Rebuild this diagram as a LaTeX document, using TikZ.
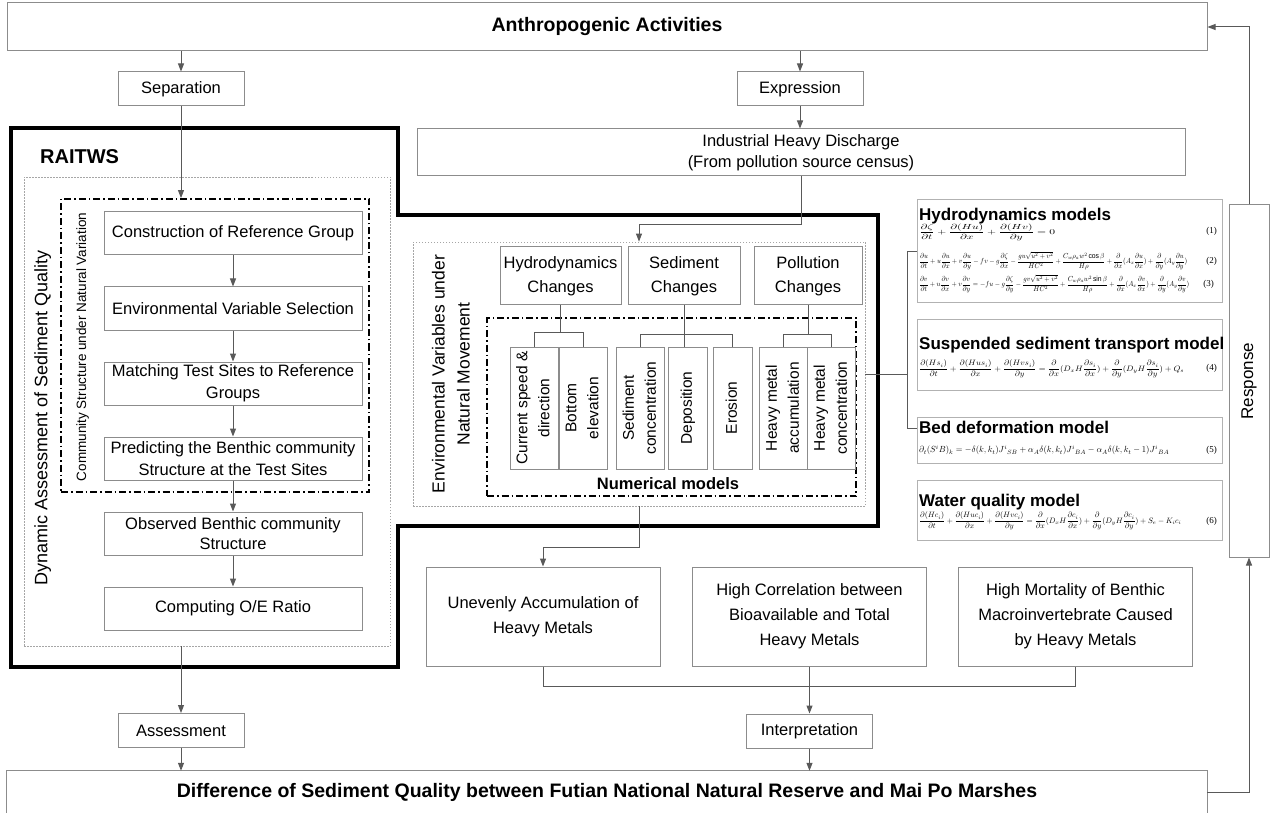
\documentclass[tikz,border=0pt]{standalone}
\usepackage{amsmath}
\usepackage{fontspec}
\setmainfont{Liberation Sans}
\newfontfamily\eqnumfont{Liberation Serif}
\usetikzlibrary{arrows.meta,positioning,calc}

\newcommand{\fs}[2]{\fontsize{#1}{#2}\selectfont}
\newcommand{\vtext}[1]{\rotatebox{90}{\begin{tabular}{@{}c@{}}#1\end{tabular}}}
\newcommand{\eqbox}[3]{\resizebox*{#1}{#2}{$\displaystyle #3$}}

\begin{document}
\begin{tikzpicture}[%
>={Stealth[length=8pt,width=6pt,inset=0pt]},
x=1pt, y=-1pt,
node distance=75pt,
on grid,
box/.style={draw=black!45, line width=1pt, inner sep=2pt, align=center, font=\fs{16.5}{22}},
title/.style={box, font=\bfseries\fs{19.5}{24}},
colbox/.style={box, minimum width=258pt, minimum height=43pt},
smallbox/.style={box, minimum width=126pt, minimum height=34pt},
tall/.style={box, minimum width=#1, minimum height=122pt, font=\fs{15.5}{22}},
result/.style={box, minimum width=234pt, minimum height=99pt, font=\fs{16.5}{25}},
model/.style={draw=black!30, line width=1pt, minimum width=305pt},
heading/.style={anchor=base west, inner sep=0pt, font=\bfseries\fs{17}{20}},
eq/.style={anchor=west, inner sep=0pt},
eqnum/.style={anchor=east, inner sep=0pt, font=\eqnumfont\fs{9}{10}},
dotbox/.style={draw=black!35, line width=0.8pt, dash pattern=on 1.5pt off 1.5pt},
dashdot/.style={draw, line width=1.8pt, dash pattern=on 7pt off 3pt on 1.5pt off 3pt},
line/.style={draw=black!65, line width=1pt},
]
\useasboundingbox (0,0) rectangle (1270,813);

% top row
\node[title, minimum width=1200pt, minimum height=48pt] (anthro) at (607,27) {Anthropogenic Activities};
\node[smallbox] (sep) at (181,89) {Separation};
\node[smallbox] (expr) at (800,89) {Expression};
\node[box, minimum width=768pt, minimum height=47pt, font=\fs{16.5}{21}] (disch) at (801,152.5) {Industrial Heavy Discharge\\(From pollution source census)};

\draw[line,->] (anthro.south -| sep) -- (sep);
\draw[line,->] (anthro.south -| expr) -- (expr);
\draw[line,->] (expr) -- (disch.north -| expr);

% RAITWS frame
\draw[line width=3.5pt, line join=miter] (11,128) -- (398,128) -- (398,215) -- (878,215) -- (878,526) -- (398,526) -- (398,667) -- (11,667) -- cycle;
\node[anchor=base west, inner sep=0pt, font=\bfseries\fs{20}{24}] (raitws) at (40,164) {RAITWS};

% left column
\node[dotbox, minimum width=366pt, minimum height=469pt] (dynbox) at (207,411.5) {};
\node[dashdot, minimum width=308pt, minimum height=293pt] (commbox) at (215,345.5) {};
\node[font=\fs{18}{22}] (dynlabel) at (43,418) {\vtext{Dynamic Assessment of Sediment Quality}};
\node[font=\fs{13.5}{16}] (commlabel) at (83,347) {\vtext{Community Structure under Natural Variation}};

\node[colbox] (cons) at (233,233.5) {Construction of Reference Group};
\node[colbox, below=of cons] (varsel) {Environmental Variable Selection};
\node[colbox, below=of varsel] (match) {Matching Test Sites to Reference\\Groups};
\node[colbox, below=of match] (pred) {Predicting the Benthic community\\Structure at the Test Sites};
\node[colbox, below=of pred, font=\fs{16.5}{20}] (obs) {Observed Benthic community\\Structure};
\node[colbox, below=of obs] (oeratio) {Computing O/E Ratio};

\draw[line,->] (sep) -- (sep |- commbox.north);
\foreach \a/\b in {cons/varsel, varsel/match, match/pred, pred/obs, obs/oeratio}
  \draw[line,->] (\a) -- (\b);

\node[smallbox] (assess) at (181,730.5) {Assessment};
\draw[line,->] (sep |- dynbox.south) -- (assess);

% middle block
\node[dotbox, minimum width=452pt, minimum height=264pt] (envbox) at (639,374) {};
\node[font=\fs{17.5}{25}] (envlabel) at (452,374) {\vtext{Environmental Variables under\\Natural Movement}};
\node[box, minimum width=121pt, minimum height=58pt, font=\fs{16.5}{24}] (hydroc) at (560.5,276) {Hydrodynamics\\Changes};
\node[box, minimum width=112pt, minimum height=58pt, font=\fs{16.5}{24}] (sedc) at (684,276) {Sediment\\Changes};
\node[box, minimum width=108pt, minimum height=58pt, font=\fs{16.5}{24}] (pollc) at (808,276) {Pollution\\Changes};
\node[dashdot, minimum width=369pt, minimum height=178pt] (numbox) at (671.5,407) {};
\node[font=\bfseries\fs{16.5}{20}] (numlabel) at (668,484) {Numerical models};

\node[tall=42pt] (curr) at (534,408) {\vtext{Current speed \&\\direction}};
\node[tall=42pt] (bottom) at (583,408) {\vtext{Bottom\\elevation}};
\node[tall=43pt] (sconc) at (640.5,408) {\vtext{Sediment\\concentration}};
\node[tall=39pt] (depo) at (687.5,408) {\vtext{Deposition}};
\node[tall=39pt] (eros) at (732.5,408) {\vtext{Erosion}};
\node[tall=41pt] (hmacc) at (783.5,408) {\vtext{Heavy metal\\accumulation}};
\node[tall=43pt] (hmconc) at (831.5,408) {\vtext{Heavy metal\\concentration}};

\draw[line] (hydroc.south) -- ++(0,27) coordinate (hj) (curr.north) |- (hj) -| (bottom.north);
\draw[line] (sedc.south) -- (sedc.south |- depo.north) (sconc.north) |- ($(sedc.south)+(0,29)$) -| (eros.north);
\draw[line] (pollc.south) -- ++(0,29) coordinate (pj) (hmacc.north) |- (pj) -| (hmconc.north);

\draw[line,->] (disch.south) -- ++(0,48) -| (envbox.north);

% model equations
\node[model, minimum height=103pt] (hydm) at (1069.5,251.5) {};
\node[heading] (hydmt) at (919,221) {Hydrodynamics models};
\node[eq] (eq1) at (919,232) {\eqbox{136pt}{17pt}{\frac{\partial\zeta}{\partial t}+\frac{\partial(Hu)}{\partial x}+\frac{\partial(Hv)}{\partial y}=0}};
\node[eq] (eq2) at (919,261) {\eqbox{268pt}{18pt}{\frac{\partial u}{\partial t}+u\frac{\partial u}{\partial x}+v\frac{\partial u}{\partial y}-fv-g\frac{\partial\zeta}{\partial x}-\frac{gu\sqrt{u^2+v^2}}{HC^2}+\frac{C_w\rho_a w^2\cos\beta}{H\rho}+\frac{\partial}{\partial x}(A_x\frac{\partial u}{\partial x})+\frac{\partial}{\partial y}(A_y\frac{\partial u}{\partial y})}};
\node[eq] (eq3) at (919,284) {\eqbox{270pt}{18pt}{\frac{\partial v}{\partial t}+u\frac{\partial v}{\partial x}+v\frac{\partial v}{\partial y}=-fu-g\frac{\partial\zeta}{\partial y}-\frac{gv\sqrt{u^2+v^2}}{HC^2}+\frac{C_w\rho_a w^2\sin\beta}{H\rho}+\frac{\partial}{\partial x}(A_x\frac{\partial v}{\partial x})+\frac{\partial}{\partial y}(A_y\frac{\partial v}{\partial y})}};
\node[eqnum] (n1) at (1217,231) {(1)};
\node[eqnum] (n2) at (1217,261) {(2)};
\node[eqnum] (n3) at (1214,284) {(3)};

\node[model, minimum height=70pt] (susm) at (1069.5,355) {};
\node[heading] (susmt) at (919,349) {Suspended sediment transport model};
\node[eq] (eq4) at (919,369) {\eqbox{265pt}{18pt}{\frac{\partial(Hs_i)}{\partial t}+\frac{\partial(Hus_i)}{\partial x}+\frac{\partial(Hvs_i)}{\partial y}=\frac{\partial}{\partial x}(D_xH\frac{\partial s_i}{\partial x})+\frac{\partial}{\partial y}(D_yH\frac{\partial s_i}{\partial y})+Q_s}};
\node[eqnum] (n4) at (1217,368) {(4)};

\node[model, minimum height=46pt] (bedm) at (1069.5,440) {};
\node[heading] (bedmt) at (919,433) {Bed deformation model};
\node[eq] (eq5) at (919,450) {\eqbox{250pt}{10pt}{\partial_t(S^iB)_k=-\delta(k,k_t){J^i}_{SB}+\alpha_A\delta(k,k_t){J^i}_{BA}-\alpha_A\delta(k,k_t-1){J^i}_{BA}}};
\node[eqnum] (n5) at (1217,450) {(5)};

\node[model, minimum height=60pt] (watm) at (1069.5,510) {};
\node[heading] (watmt) at (919,506) {Water quality model};
\node[eq] (eq6) at (919,521) {\eqbox{262pt}{18pt}{\frac{\partial(Hc_i)}{\partial t}+\frac{\partial(Huc_i)}{\partial x}+\frac{\partial(Hvc_i)}{\partial y}=\frac{\partial}{\partial x}(D_xH\frac{\partial c_i}{\partial x})+\frac{\partial}{\partial y}(D_yH\frac{\partial c_i}{\partial y})+S_e-K_ic_i}};
\node[eqnum] (n6) at (1217,521) {(6)};

\coordinate (bedin) at ($(bedm.north west)!0.25!(bedm.south west)$);
\draw[line] (hydm.west) -- ++(-9,0) coordinate (brk) |- (bedin);
\draw[line] (envbox.east) -- (envbox.east -| brk);

% results
\node[result] (uneven) at (543,616.5) {Unevenly Accumulation of\\Heavy Metals};
\node[result, right=266.5pt of uneven] (corr) {High Correlation between\\Bioavailable and Total\\Heavy Metals};
\node[result, right=266pt of corr] (mort) {High Mortality of Benthic\\Macroinvertebrate Caused\\by Heavy Metals};
\draw[line,->] (envbox.south) -- ++(0,41) -| (uneven.north);

\node[smallbox] (interp) at (809.5,731) {Interpretation};
\draw[line] (uneven.south) -- ++(0,20) -| (mort.south);
\draw[line,->] (corr) -- (interp);

% bottom row
\node[font=\bfseries\fs{19.5}{24}, minimum width=1200pt, minimum height=42pt] (diff) at (607,792) {Difference of Sediment Quality between Futian National Natural Reserve and Mai Po Marshes};
\draw[draw=black!45, line width=1pt] (diff.south west) |- (diff.north east) -- (diff.south east);
\draw[line,->] (assess) -- (assess |- diff.north);
\draw[line,->] (interp) -- (interp |- diff.north);

% feedback
\node[box, minimum width=40pt, minimum height=352pt, font=\fs{17}{20}] (resp) at (1249,381) {\vtext{Response}};
\draw[line,->] (resp.north) |- (anthro.east);
\draw[line,->] (diff.east) -| (resp.south);
\end{tikzpicture}
\end{document}
